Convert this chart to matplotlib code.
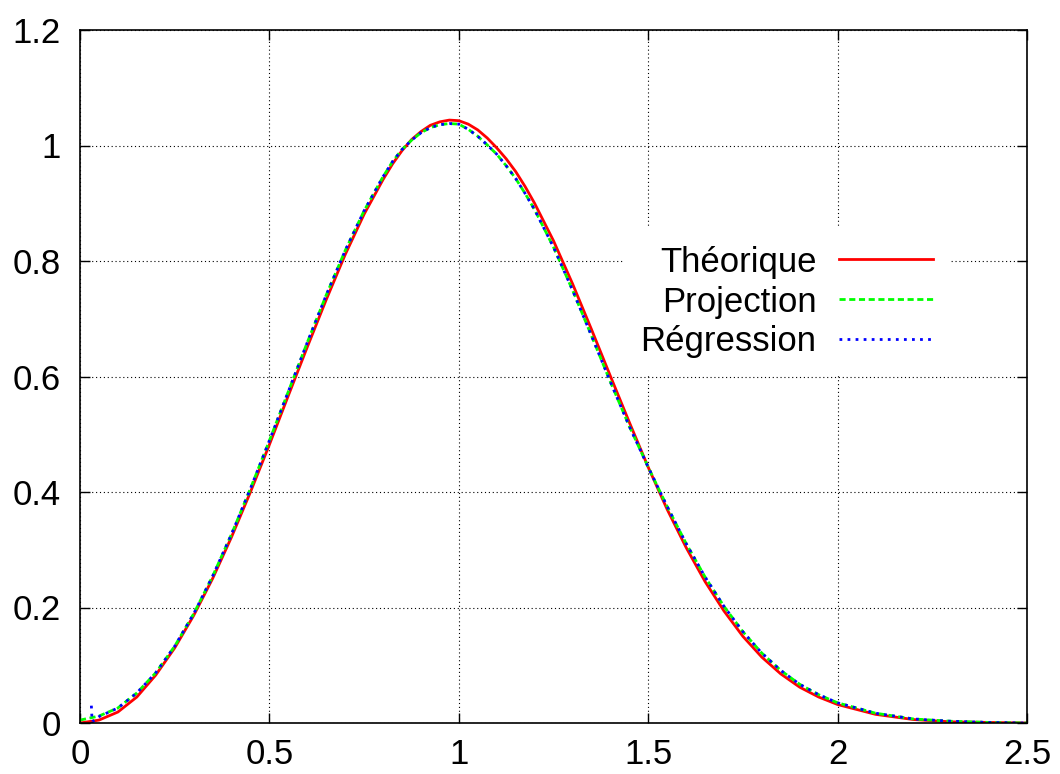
import matplotlib
matplotlib.use("Agg")
import matplotlib.pyplot as plt

x = [0.00, 0.05, 0.10, 0.15, 0.20, 0.25, 0.30, 0.35, 0.40, 0.45,
     0.50, 0.55, 0.60, 0.65, 0.70, 0.75, 0.80, 0.825, 0.85, 0.875,
     0.90, 0.925, 0.95, 0.975, 1.00, 1.025, 1.05, 1.075, 1.10, 1.125,
     1.15, 1.175, 1.20, 1.25, 1.30, 1.35, 1.40, 1.45,
     1.50, 1.55, 1.60, 1.65, 1.70, 1.75, 1.80, 1.85, 1.90, 1.95,
     2.00, 2.10, 2.20, 2.30, 2.40, 2.50]

theorique = [0.000, 0.005, 0.019, 0.045, 0.083, 0.130, 0.186, 0.250, 0.322, 0.400,
             0.482, 0.567, 0.651, 0.733, 0.811, 0.881, 0.941, 0.968, 0.991, 1.010,
             1.024, 1.035, 1.041, 1.044, 1.043, 1.037, 1.027, 1.013, 0.996, 0.977,
             0.955, 0.929, 0.900, 0.835, 0.761, 0.682, 0.601, 0.521,
             0.443, 0.370, 0.304, 0.245, 0.194, 0.150, 0.114, 0.085, 0.062, 0.045,
             0.032, 0.015, 0.006, 0.002, 0.001, 0.000]

projection = [0.005, 0.012, 0.026, 0.052, 0.087, 0.133, 0.189, 0.254, 0.327, 0.406,
              0.489, 0.574, 0.659, 0.741, 0.818, 0.887, 0.946, 0.972, 0.993, 1.009,
              1.022, 1.031, 1.036, 1.038, 1.037, 1.028, 1.016, 1.001, 0.985, 0.965,
              0.943, 0.917, 0.889, 0.824, 0.750, 0.671, 0.591, 0.514,
              0.443, 0.375, 0.311, 0.253, 0.202, 0.158, 0.121, 0.091, 0.067, 0.049,
              0.035, 0.017, 0.007, 0.003, 0.001, 0.000]

# regression starts with a small spike near x = 0.03
x_reg = [0.030, 0.032] + x[1:]
regression = [0.030, 0.002, 0.011, 0.026, 0.052, 0.087, 0.133, 0.189, 0.254, 0.327, 0.406,
              0.489, 0.574, 0.659, 0.741, 0.818, 0.887, 0.946, 0.972, 0.993, 1.009,
              1.022, 1.031, 1.036, 1.038, 1.037, 1.028, 1.016, 1.001, 0.985, 0.965,
              0.943, 0.917, 0.889, 0.824, 0.750, 0.671, 0.591, 0.514,
              0.443, 0.375, 0.311, 0.253, 0.202, 0.158, 0.121, 0.091, 0.067, 0.049,
              0.035, 0.017, 0.007, 0.003, 0.001, 0.000]

xticks = [0, 0.5, 1, 1.5, 2, 2.5]
xtick_labels = ["0", "0.5", "1", "1.5", "2", "2.5"]
yticks = [0, 0.2, 0.4, 0.6, 0.8, 1, 1.2]
ytick_labels = ["0", "0.2", "0.4", "0.6", "0.8", "1", "1.2"]

plt.rcParams["font.family"] = ["Liberation Sans", "DejaVu Sans"]
plt.rcParams["font.size"] = 25

fig = plt.figure(figsize=(10.6, 7.74), dpi=100)
ax = fig.add_axes([80 / 1060, 1 - 723 / 774, 947 / 1060, 693 / 774])

ax.plot(x, theorique, color="#ff0000", lw=2, label="Théorique")
ax.plot(x, projection, color="#00ff00", lw=2, dashes=(2.2, 1.3), label="Projection")
ax.plot(x_reg, regression, color="#0000ff", lw=2, dashes=(1.0, 1.9), label="Régression")

ax.set_xlim(0, 2.5)
ax.set_ylim(0, 1.2)
ax.set_xticks(xticks)
ax.set_xticklabels(xtick_labels)
ax.set_yticks(yticks)
ax.set_yticklabels(ytick_labels)

ax.grid(True, color="black", lw=0.8, linestyle=(0, (1, 2.5)))
ax.set_axisbelow(True)
ax.tick_params(direction="in", length=7, width=1, top=True, right=True)
ax.tick_params(axis="x", pad=11)
ax.tick_params(axis="y", pad=14)
for sp in ax.spines.values():
    sp.set_linewidth(1.2)

leg = ax.legend(loc="center right", bbox_to_anchor=(0.919, 0.6075),
                markerfirst=False, frameon=True, fancybox=False,
                handlelength=2.7, handletextpad=0.65, labelspacing=0.2,
                borderpad=0.5, borderaxespad=0)
leg.get_frame().set_edgecolor("none")
leg.get_frame().set_facecolor("white")
leg.get_frame().set_alpha(1)

fig.savefig("out.png", dpi=100)
